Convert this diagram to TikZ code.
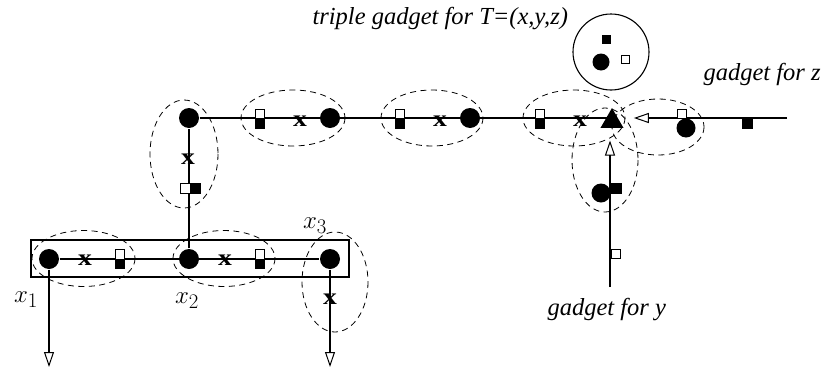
\documentclass[tikz,border=0pt]{standalone}
\usepackage{fontspec}
\setmainfont{Liberation Serif}
\usetikzlibrary{arrows.meta,shapes.geometric}

\begin{document}
\begin{tikzpicture}[x=1pt,y=-1pt,line width=1.1pt,
  vdot/.style={circle,fill=black,inner sep=0pt,minimum size=20pt},
  xmk/.style={inner sep=0pt,xscale=1.2,font=\bfseries\fontsize{23}{23}\selectfont},
  lbl/.style={inner sep=0pt,font=\fontsize{32}{36}\selectfont},
  txt/.style={inner sep=0pt,anchor=base west,font=\itshape\fontsize{24.5}{28}\selectfont},
  gadget/.style={dash pattern=on 6pt off 4.5pt,line width=0.8pt},
  opent/.style={-{Triangle[open,length=15pt,width=10pt,line width=1pt]}}]
\path[use as bounding box] (0,0) rectangle (825,370);
% variable box and gadget outlines
\draw (31,240) rectangle (349,277);
\draw[gadget] (83.5,258.5) ellipse [x radius=51.5,y radius=28];
\draw[gadget] (224,258.5) ellipse [x radius=51,y radius=28];
\draw[gadget] (335,282) ellipse [x radius=33,y radius=50];
\draw[gadget] (184,154) ellipse [x radius=34,y radius=54];
\draw[gadget] (293,118) ellipse [x radius=52,y radius=28];
\draw[gadget] (432,118) ellipse [x radius=51,y radius=28];
\draw[gadget] (574,118) ellipse [x radius=51,y radius=28];
\draw[gadget] (658,127) ellipse [x radius=46,y radius=28];
\draw[gadget] (605,160) ellipse [x radius=33,y radius=52];
% bottom row
\node[vdot] (a1) at (49,259) {};
\node[vdot] (a2) at (189,259) {};
\node[vdot] (a3) at (330,259) {};
\node[xmk] (m1) at (85,260) {x};
\node[xmk] (m2) at (225,260) {x};
\node[xmk] (m3) at (330,299) {x};
\node[lbl] (l1) at (26,300) {$x_1$};
\node[lbl] (l2) at (187,301) {$x_2$};
\node[lbl] (l3) at (315,226) {$x_3$};
\coordinate (o1) at (49,367);
\coordinate (o3) at (330,367);
% top row
\node[vdot] (t1) at (189,118) {};
\node[vdot] (t2) at (330,118) {};
\node[vdot] (t3) at (470,118) {};
\node[xmk] (m4) at (188,159) {x};
\node[xmk] (m5) at (300,121) {x};
\node[xmk] (m6) at (440,121) {x};
\node[xmk] (m7) at (580,121) {x};
\node[regular polygon,regular polygon sides=3,fill=black,inner sep=0pt,minimum size=26.6pt] (tr) at (612,121.3) {};
% gadgets for z and y
\node[vdot,minimum size=19pt] (gz) at (686,128) {};
\node[vdot,minimum size=19pt] (gy) at (601,193) {};
\coordinate (zend) at (787,118);
\coordinate (ybot) at (610,287);
% triple gadget
\node[draw,circle,inner sep=0pt,minimum size=76pt] (tg) at (611,52) {};
\node[vdot,minimum size=17pt] (td) at (601,62) {};
% connectors
\draw (a1) -- (a3);
\draw (a2) -- (t1);
\draw (t1) -- (t1 -| tr);
\draw[opent] (a1) -- (o1);
\draw[opent] (a3) -- (o3);
\draw[opent,shorten >=13.5pt] (zend) -- (zend -| tr.east);
\draw[opent,shorten >=12pt] (ybot) -- (ybot |- tr.south);
% squares
\begin{scope}[line width=0.8pt]
\draw[fill=white] (115.5,249) rectangle (124.5,259);
\draw[fill=black] (115.5,259) rectangle (124.5,268);
\draw[fill=white] (255.5,249) rectangle (264.5,259);
\draw[fill=black] (255.5,259) rectangle (264.5,268);
\draw[fill=white] (180,183) rectangle (190,193);
\draw[fill=black] (190,183) rectangle (200,193);
\draw[fill=white] (255.5,109) rectangle (264.5,118);
\draw[fill=black] (255.5,118) rectangle (264.5,128);
\draw[fill=white] (395.5,109) rectangle (404.5,118);
\draw[fill=black] (395.5,118) rectangle (404.5,128);
\draw[fill=white] (535.5,109) rectangle (544.5,118);
\draw[fill=black] (535.5,118) rectangle (544.5,128);
\draw[fill=white] (677,109) rectangle (686,118);
\draw[fill=black] (742,118) rectangle (752,128);
\draw[fill=black] (611,183) rectangle (621,193);
\draw[fill=white] (611,249) rectangle (620,258);
\draw[fill=black] (602,35) rectangle (610,43);
\draw[fill=white] (621,55) rectangle (629,63);
\end{scope}
% texts
\node[txt] (tt) at (312,24) {triple gadget for T=(x,y,z)};
\node[txt] (tz) at (703,80) {gadget for z};
\node[txt] (ty) at (547,315) {gadget for y};
\end{tikzpicture}
\end{document}
